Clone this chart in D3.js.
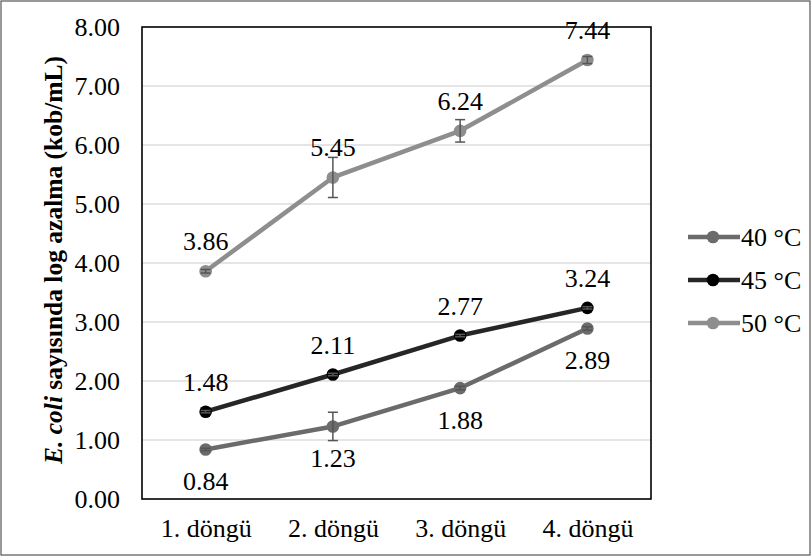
<!DOCTYPE html>
<html><head><meta charset="utf-8">
<script src="https://cdn.jsdelivr.net/npm/d3@7"></script>
<style>body{margin:0;background:#fff} svg, svg text, svg tspan{font-family:"Liberation Serif","Times New Roman",serif;}</style>
</head><body>
<svg id="c" width="812" height="557" font-family="Liberation Serif"></svg>
<script>
const categories = ["1. döngü","2. döngü","3. döngü","4. döngü"];
const seriesNames = ["40 °C","45 °C","50 °C"];
const values40 = [0.84,1.23,1.88,2.89];
const values45 = [1.48,2.11,2.77,3.24];
const values50 = [3.86,5.45,6.24,7.44];
const err40 = [0.02,0.24,0.03,0.03];
const err45 = [0.02,0.02,0.02,0.02];
const err50 = [0.03,0.34,0.19,0.06];
const yTicks = [0,1,2,3,4,5,6,7,8];

const series = [
  {name:seriesNames[0], vals:values40, err:err40, line:"#6b6b6b", dot:"#6b6b6b", below:true},
  {name:seriesNames[1], vals:values45, err:err45, line:"#262626", dot:"#000", below:false},
  {name:seriesNames[2], vals:values50, err:err50, line:"#8e8e8e", dot:"#8e8e8e", below:false}
];
const FF = '"Liberation Serif"';
const FS = "26px";

const svg = d3.select("#c");
svg.append("rect").attr("x",1).attr("y",1).attr("width",809).attr("height",554)
  .attr("fill","#fff").attr("stroke","#555").attr("stroke-width",1.2);

const L=142, R=651, T=27, B=499;
const x = d3.scalePoint().domain(categories).range([L,R]).padding(0.5);
const y = d3.scaleLinear().domain([0,8]).range([B,T]);

svg.append("g").selectAll("line").data(yTicks.filter(d=>d>0&&d<8)).join("line")
  .attr("x1",L).attr("x2",R).attr("y1",d=>y(d)).attr("y2",d=>y(d))
  .attr("stroke","#dcdcdc").attr("stroke-width",1.5);

svg.append("rect").attr("x",L).attr("y",T).attr("width",R-L).attr("height",B-T)
  .attr("fill","none").attr("stroke","#000").attr("stroke-width",1.6);

const ya = svg.append("g").attr("transform",`translate(${L},0)`)
  .call(d3.axisLeft(y).tickValues(yTicks).tickFormat(d3.format(".2f")).tickSize(0).tickPadding(22));
ya.select(".domain").remove();
ya.attr("font-family",null).attr("font-size",null);
ya.selectAll("text").attr("font-family","Liberation Serif").style("font-family",FF).style("font-size",FS).attr("fill","#000");

const xa = svg.append("g").attr("transform",`translate(0,${B})`)
  .call(d3.axisBottom(x).tickSize(0).tickPadding(20));
xa.select(".domain").remove();
xa.attr("font-family",null).attr("font-size",null);
xa.selectAll("text").attr("font-family","Liberation Serif").style("font-family",FF).style("font-size",FS).attr("fill","#000");

const title = svg.append("text").attr("transform",`translate(62,260) rotate(-90)`)
  .attr("text-anchor","middle").style("font-family",FF).style("font-size","25.5px").style("font-weight","bold");
title.append("tspan").style("font-style","italic").text("E. coli");
title.append("tspan").text(" sayısında log azalma (kob/mL)");

const line = d3.line().x((d,i)=>x(categories[i])).y(d=>y(d));
series.forEach(s=>{
  const g = svg.append("g");
  g.append("path").datum(s.vals).attr("d",line).attr("fill","none")
    .attr("stroke",s.line).attr("stroke-width",4.5).attr("stroke-linejoin","round");
  g.selectAll("circle").data(s.vals).join("circle")
    .attr("cx",(d,i)=>x(categories[i])).attr("cy",d=>y(d)).attr("r",6.3).attr("fill",s.dot);
  const eb = g.selectAll("g.eb").data(s.vals).join("g");
  eb.append("line").attr("x1",(d,i)=>x(categories[i])).attr("x2",(d,i)=>x(categories[i]))
    .attr("y1",(d,i)=>y(d+s.err[i])).attr("y2",(d,i)=>y(d-s.err[i])).attr("stroke","#555").attr("stroke-width",1.5);
  [1,-1].forEach(sg=>{
    eb.append("line").attr("x1",(d,i)=>x(categories[i])-5).attr("x2",(d,i)=>x(categories[i])+5)
      .attr("y1",(d,i)=>y(d+sg*s.err[i])).attr("y2",(d,i)=>y(d+sg*s.err[i])).attr("stroke","#555").attr("stroke-width",1.5);
  });
  g.selectAll("text").data(s.vals).join("text")
    .attr("x",(d,i)=>x(categories[i])).attr("y",d=>y(d)+(s.below?41:-21))
    .attr("text-anchor","middle").style("font-family",FF).style("font-size",FS).attr("fill","#000")
    .text(d=>d.toFixed(2));
});

const lg = svg.append("g");
series.forEach((s,i)=>{
  const yy = 237 + i*43;
  lg.append("line").attr("x1",688).attr("x2",740).attr("y1",yy).attr("y2",yy).attr("stroke",s.line).attr("stroke-width",4.5);
  lg.append("circle").attr("cx",713).attr("cy",yy).attr("r",6.3).attr("fill",s.dot);
  lg.append("text").attr("x",741).attr("y",yy+9).style("font-family",FF).style("font-size",FS).text(s.name);
});
</script>
</body></html>
